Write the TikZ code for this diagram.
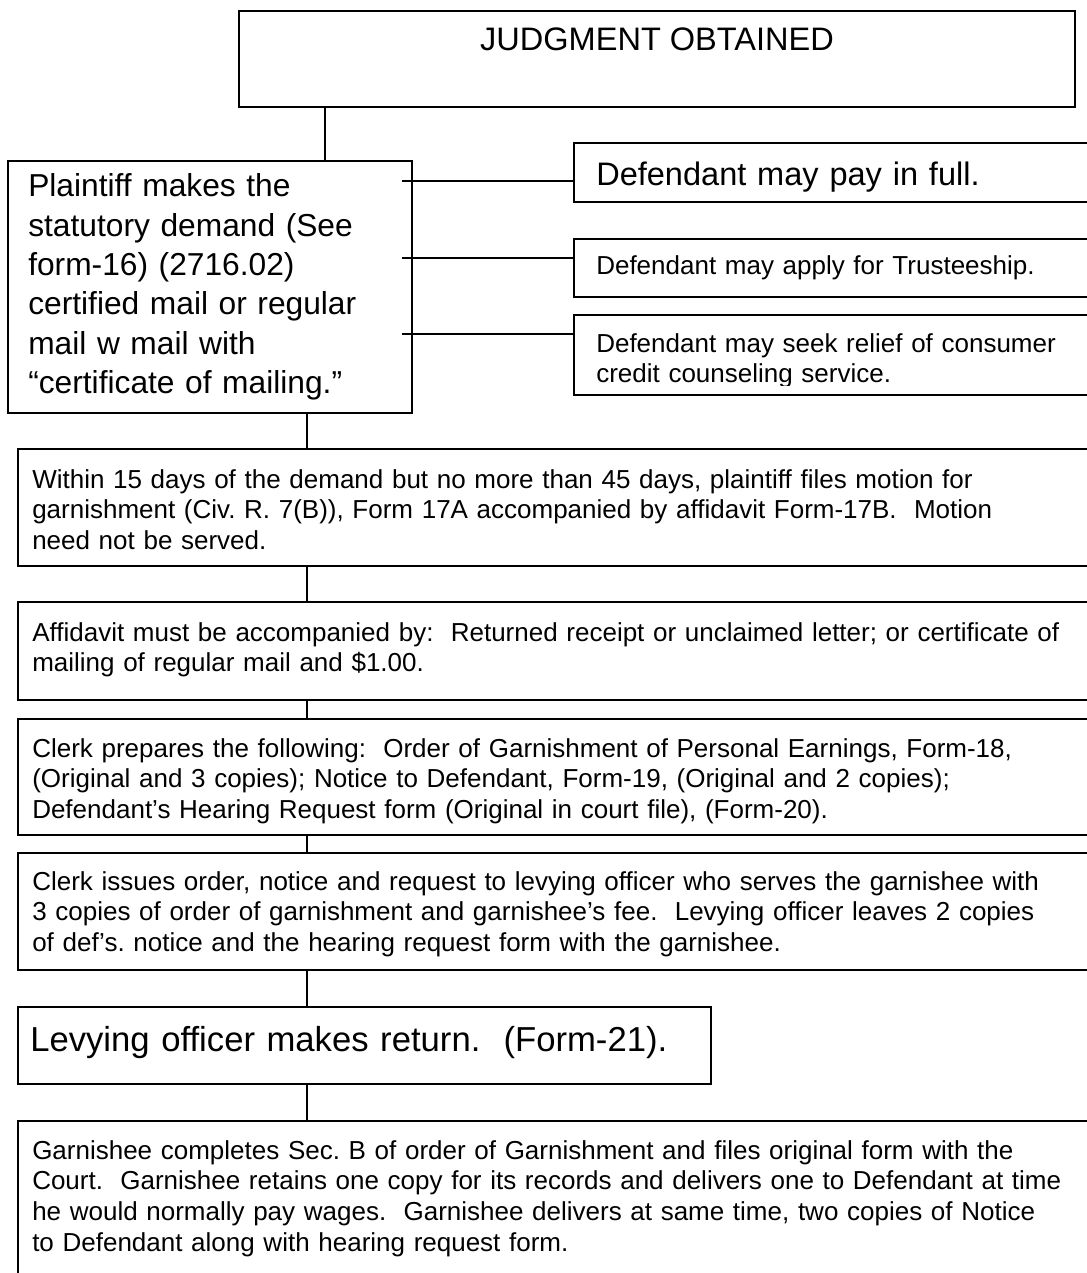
\documentclass[tikz,border=0pt]{standalone}
\usepackage{fontspec}
\setmainfont{Liberation Sans}
\usetikzlibrary{fit}
\frenchspacing
\begin{document}
\begin{tikzpicture}[x=0.75pt,y=-0.75pt,
  box/.style={draw=black, line width=1.15pt, inner sep=0pt},
  conn/.style={draw=black, line width=0.9pt},
  bigline/.style={anchor=base, inner sep=0pt, font=\fontsize{24.4pt}{28.7pt}\selectfont},
  bigpara/.style={anchor=base west, inner sep=0pt, align=left, text width=600pt, font=\fontsize{#1}{29.5pt}\selectfont},
  widepara/.style={anchor=base west, inner sep=0pt, align=left, text width=860pt, font=\fontsize{19.5pt}{23.2pt}\selectfont},
  sidepara/.style={anchor=base west, inner sep=0pt, align=left, text width=500pt, font=\fontsize{19.5pt}{22.5pt}\selectfont},
]
\useasboundingbox (0,0) rectangle (1087,1273);
\clip (0,0) rectangle (1087,1273);

% boxes
\node[box, fit={(239,11) (1075,107)}] (J) {};
\node[box, fit={(8,161) (412,413)}] (P) {};
\node[box, fit={(574,143) (1110,202)}] (R1) {};
\node[box, fit={(574,239) (1110,297)}] (R2) {};
\node[box, fit={(574,315) (1110,395)}] (R3) {};
\node[box, fit={(18,449) (1110,566)}] (A) {};
\node[box, fit={(18,602) (1110,700)}] (B) {};
\node[box, fit={(18,719) (1110,835)}] (C) {};
\node[box, fit={(18,853) (1110,970)}] (D) {};
\node[box, fit={(18,1007) (711,1084)}] (E) {};
\node[box, fit={(18,1121) (1110,1310)}] (F) {};

% connectors
\coordinate (v1) at (325,0);
\coordinate (v2) at (307,0);
\draw[conn] (v1 |- J.south) -- (v1 |- P.north);
\draw[conn] (v2 |- P.south) -- (v2 |- A.north);
\draw[conn] (v2 |- A.south) -- (v2 |- B.north);
\draw[conn] (v2 |- B.south) -- (v2 |- C.north);
\draw[conn] (v2 |- C.south) -- (v2 |- D.north);
\draw[conn] (v2 |- D.south) -- (v2 |- E.north);
\draw[conn] (v2 |- E.south) -- (v2 |- F.north);
\coordinate (h1) at (402,181);
\coordinate (h2) at (402,258);
\coordinate (h3) at (402,334);
\draw[conn] (h1) -- (h1 -| R1.west);
\draw[conn] (h2) -- (h2 -| R2.west);
\draw[conn] (h3) -- (h3 -| R3.west);

% texts
\node[bigline] (Jt) at (657,51) {JUDGMENT OBTAINED};
\node[bigpara=23.8pt] (Pt) at (28,197) {Plaintiff makes the\\statutory demand (See\\form-16) (2716.02)\\certified mail or regular\\mail w mail with\\“certificate of mailing.”};
\node[bigpara=24.4pt] (R1t) at (596,186) {Defendant may pay in full.};
\node[sidepara] (R2t) at (596,274) {Defendant may apply for Trusteeship.};
\begin{scope}
\clip (574,315) rectangle (1110,385);
\node[sidepara] (R3t) at (596,352) {Defendant may seek relief of consumer\\credit counseling service.};
\end{scope}
\node[widepara] (At) at (32,488) {Within 15 days of the demand but no more than 45 days, plaintiff files motion for\\garnishment (Civ. R. 7(B)), Form 17A accompanied by affidavit Form-17B.\ \ Motion\\need not be served.};
\node[widepara] (Bt) at (32,641) {Affidavit must be accompanied by:\ \ Returned receipt or unclaimed letter; or certificate of\\mailing of regular mail and \$1.00.};
\node[widepara] (Ct) at (32,757) {Clerk prepares the following:\ \ Order of Garnishment of Personal Earnings, Form-18,\\(Original and 3 copies); Notice to Defendant, Form-19, (Original and 2 copies);\\Defendant’s Hearing Request form (Original in court file), (Form-20).};
\node[widepara] (Dt) at (32,890) {Clerk issues order, notice and request to levying officer who serves the garnishee with\\3 copies of order of garnishment and garnishee’s fee.\ \ Levying officer leaves 2 copies\\of def’s. notice and the hearing request form with the garnishee.};
\node[bigpara=26pt] (Et) at (30,1051) {Levying officer makes return.\ \ (Form-21).};
\node[widepara] (Ft) at (32,1159) {Garnishee completes Sec. B of order of Garnishment and files original form with the\\Court.\ \ Garnishee retains one copy for its records and delivers one to Defendant at time\\he would normally pay wages.\ \ Garnishee delivers at same time, two copies of Notice\\to Defendant along with hearing request form.};
\end{tikzpicture}
\end{document}
